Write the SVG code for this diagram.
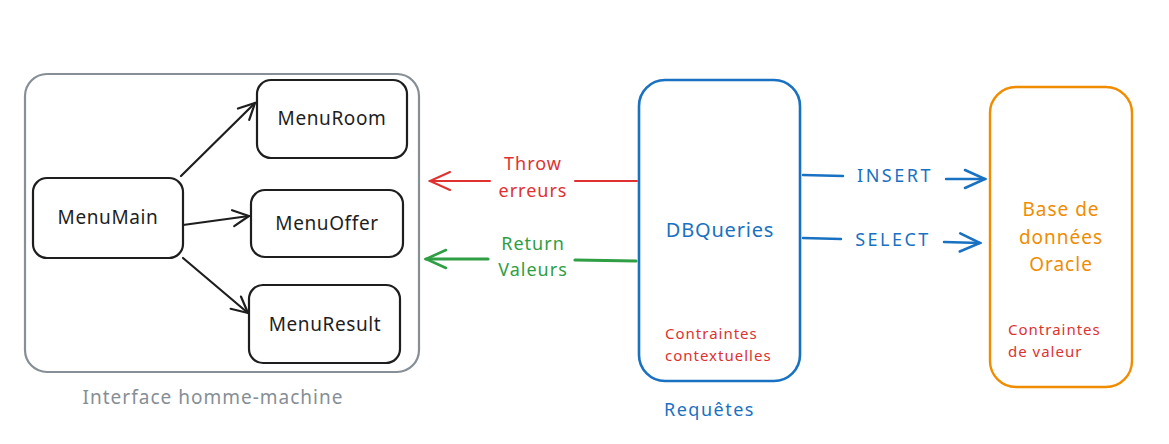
<svg xmlns="http://www.w3.org/2000/svg" width="1169" height="444" viewBox="0 0 1169 444">
<defs>
<style>
text{font-family:"Noto Sans","Liberation Sans",sans-serif;}
.node{fill:#fff;stroke:#1e1e1e;stroke-width:2.2;}
.nt{font-size:19px;fill:#1e1e1e;text-anchor:middle;letter-spacing:0.6px;}
.blk{stroke:#1e1e1e;stroke-width:2.2;fill:none;stroke-linecap:round;}
.red{stroke:#e03131;stroke-width:2;fill:none;stroke-linecap:round;}
.grn{stroke:#2f9e44;stroke-width:3.2;fill:none;stroke-linecap:round;}
.blu{stroke:#1971c2;stroke-width:2.4;fill:none;stroke-linecap:round;}
.lbl{font-size:18px;text-anchor:middle;letter-spacing:1px;}
.caps{font-size:18px;text-anchor:middle;letter-spacing:2.5px;}
.small{font-size:15px;fill:#e03131;letter-spacing:1px;}
</style>
<marker id="ab" viewBox="0 0 20 20" refX="18" refY="10" markerWidth="20" markerHeight="20" markerUnits="userSpaceOnUse" orient="auto"><path d="M2 2 L18 10 L2 18" fill="none" stroke="#1e1e1e" stroke-width="2.2" stroke-linecap="round"/></marker>
<marker id="ar" viewBox="0 0 24 24" refX="22" refY="12" markerWidth="24" markerHeight="24" markerUnits="userSpaceOnUse" orient="auto"><path d="M2 3 L22 12 L2 21" fill="none" stroke="#e03131" stroke-width="2" stroke-linecap="round"/></marker>
<marker id="ag" viewBox="0 0 24 24" refX="22" refY="12" markerWidth="24" markerHeight="24" markerUnits="userSpaceOnUse" orient="auto"><path d="M2 3 L22 12 L2 21" fill="none" stroke="#2f9e44" stroke-width="2.6" stroke-linecap="round"/></marker>
<marker id="abl" viewBox="0 0 24 24" refX="22" refY="12" markerWidth="24" markerHeight="24" markerUnits="userSpaceOnUse" orient="auto"><path d="M2 3 L22 12 L2 21" fill="none" stroke="#1971c2" stroke-width="2.6" stroke-linecap="round"/></marker>
</defs>
<rect width="1169" height="444" fill="#fff"/>

<g id="ihm">
<rect x="25" y="74" width="394" height="298" rx="22" fill="none" stroke="#868e96" stroke-width="2.2"/>
<text x="213" y="404" font-size="19" fill="#868e96" text-anchor="middle" letter-spacing="1">Interface homme-machine</text>
</g>
<g id="menuroom"><rect class="node" x="257" y="80" width="150" height="78" rx="14"/><text class="nt" x="332" y="125">MenuRoom</text></g>
<g id="menumain"><rect class="node" x="33" y="178" width="150" height="80" rx="14"/><text class="nt" x="108" y="224">MenuMain</text></g>
<g id="menuoffer"><rect class="node" x="251" y="190" width="152" height="67" rx="14"/><text class="nt" x="327" y="230">MenuOffer</text></g>
<g id="menuresult"><rect class="node" x="249" y="285" width="151" height="78" rx="14"/><text class="nt" x="325" y="331">MenuResult</text></g>

<g id="dbqueries">
<rect x="639" y="80" width="161" height="301" rx="26" fill="#fff" stroke="#1971c2" stroke-width="2.6"/>
<text x="720" y="237" font-size="20" fill="#1971c2" text-anchor="middle" letter-spacing="0.8">DBQueries</text>
<text class="small" x="665" y="339">Contraintes</text>
<text class="small" x="665" y="361">contextuelles</text>
<text x="664" y="416" font-size="18" fill="#1971c2" letter-spacing="1.5">Requêtes</text>
</g>

<g id="oracle">
<rect x="990" y="87" width="142" height="300" rx="26" fill="#fff" stroke="#f08c00" stroke-width="2.4"/>
<text x="1061" y="216" font-size="19" fill="#f08c00" text-anchor="middle" letter-spacing="1">Base de</text>
<text x="1061" y="244" font-size="19" fill="#f08c00" text-anchor="middle" letter-spacing="1">données</text>
<text x="1061" y="271" font-size="19" fill="#f08c00" text-anchor="middle" letter-spacing="1">Oracle</text>
<text class="small" x="1008" y="335">Contraintes</text>
<text class="small" x="1008" y="357">de valeur</text>
</g>

<g id="connectors">
<path class="blk" d="M181 176 L255 103" marker-end="url(#ab)"/>
<path class="blk" d="M183 225 L249 216" marker-end="url(#ab)"/>
<path class="blk" d="M183 258 L248 313" marker-end="url(#ab)"/>

<path class="red" d="M637 181 L575 181"/>
<path class="red" d="M490 181 L430 181" marker-end="url(#ar)"/>
<text class="lbl" x="533" y="170" fill="#e03131">Throw</text>
<text class="lbl" x="533" y="197" fill="#e03131">erreurs</text>

<path class="grn" d="M636 261 L575 260"/>
<path class="grn" d="M488 259 L426 259" marker-end="url(#ag)"/>
<text class="lbl" x="533" y="250" fill="#2f9e44">Return</text>
<text class="lbl" x="533" y="276" fill="#2f9e44">Valeurs</text>

<path class="blu" d="M803 175 L843 176"/>
<path class="blu" d="M946 179 L985 179" marker-end="url(#abl)"/>
<text class="caps" x="895" y="182" fill="#1971c2">INSERT</text>

<path class="blu" d="M803 238 L841 239"/>
<path class="blu" d="M944 242 L980 243" marker-end="url(#abl)"/>
<text class="caps" x="893" y="246" fill="#1971c2">SELECT</text>
</g>
</svg>
